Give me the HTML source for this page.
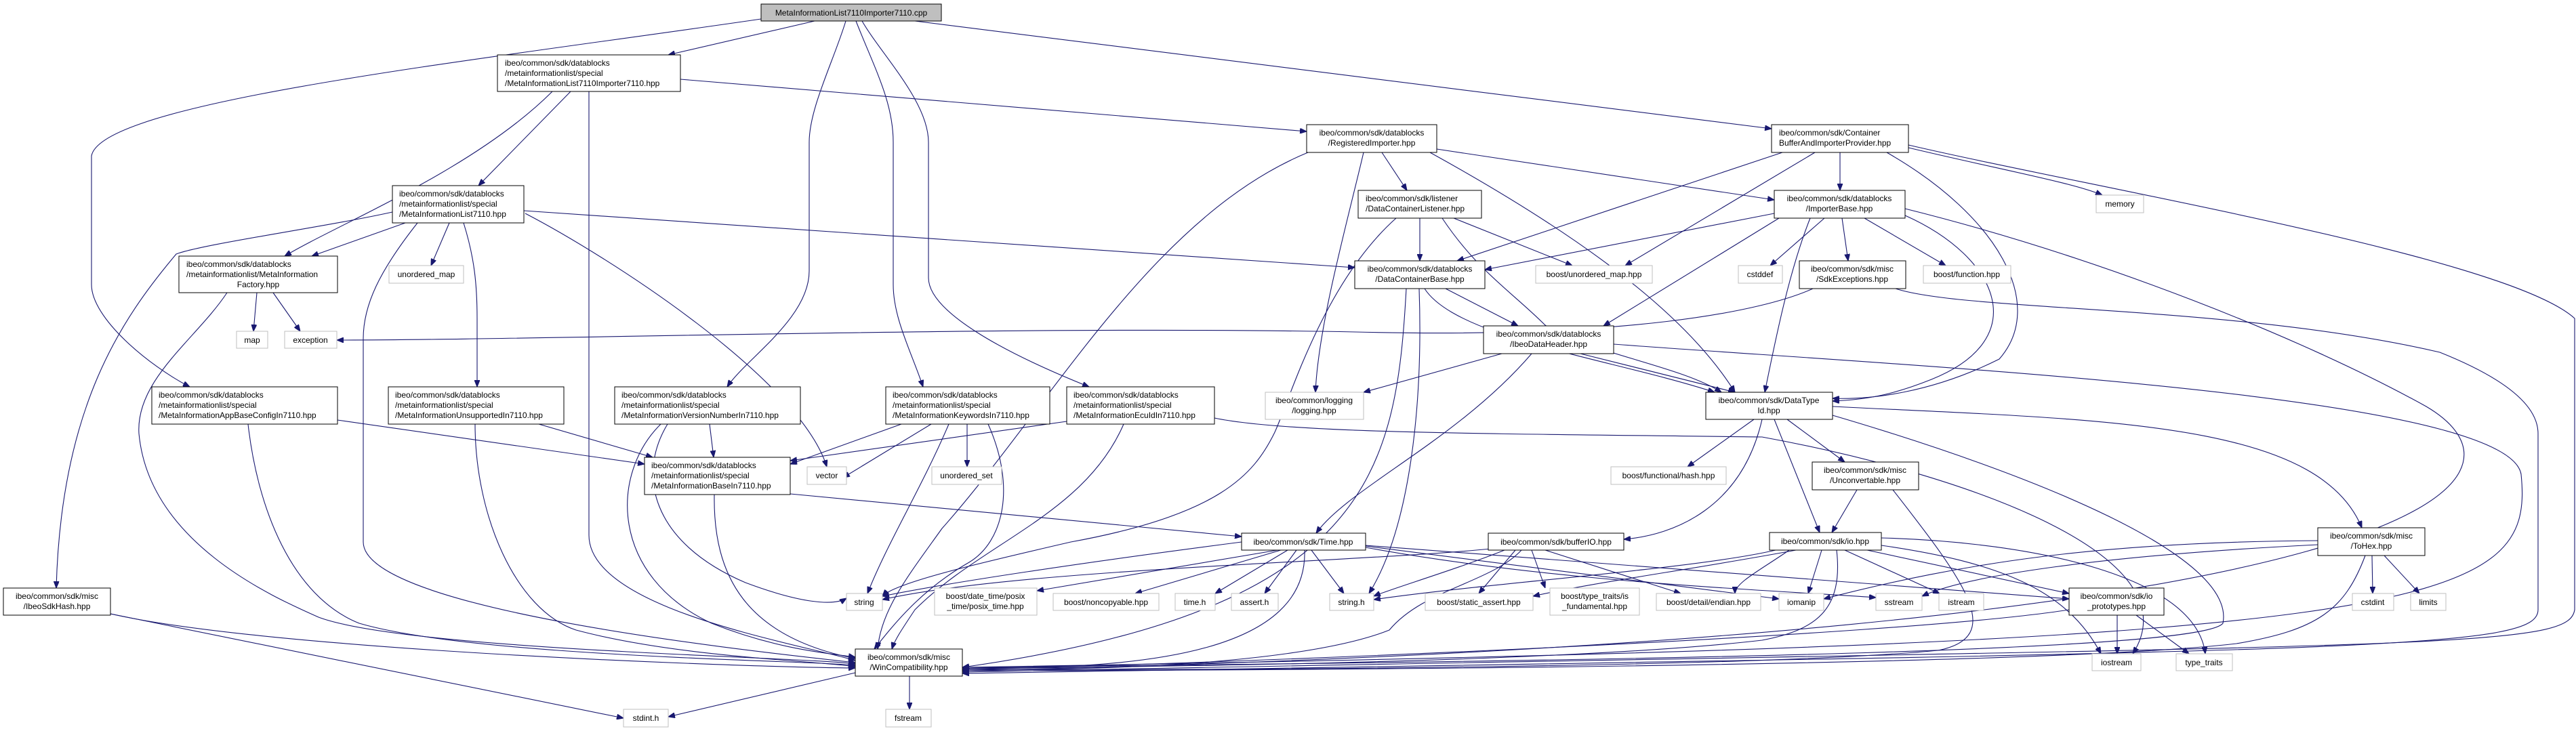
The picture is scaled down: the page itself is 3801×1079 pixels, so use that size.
<!DOCTYPE html>
<html><head><meta charset="utf-8"><style>
html,body{margin:0;padding:0;background:#fff;}
svg{display:block;}
text{font-family:"Liberation Sans",Arial,sans-serif;font-size:12px;fill:#000;}
.e{fill:none;stroke:#191970;stroke-width:1.1;marker-end:url(#a);}
.n{fill:#fff;stroke:#000;stroke-width:1;}
.g{fill:#fff;stroke:#bfbfbf;stroke-width:1;}
.sh{fill:none;stroke:#888;stroke-width:2;}
</style></head><body>
<svg width="3801" height="1079" viewBox="0 0 3801 1079" xmlns="http://www.w3.org/2000/svg">
<defs><marker id="a" markerWidth="10" markerHeight="8" refX="10" refY="4" orient="auto" markerUnits="userSpaceOnUse"><path d="M0,0 L10,4 L0,8 z" fill="#191970" stroke="#191970"/></marker></defs>

<!-- edges -->
<g>
<path class="e" d="M1202,31 L986,81"/>
<path class="e" d="M1123,28 C700,90 150,150 135,230 L135,420 C135,470 220,540 280,571"/>
<path class="e" d="M1248,31 C1230,90 1194,160 1194,210 L1194,400 C1194,470 1100,530 1073,571"/>
<path class="e" d="M1263,31 C1290,100 1318,150 1318,210 L1318,420 C1318,470 1345,520 1362,571"/>
<path class="e" d="M1272,31 C1300,80 1370,150 1370,210 L1370,410 C1370,460 1480,520 1607,571"/>
<path class="e" d="M1350,31 L2614,190"/>

<path class="e" d="M815,135 C700,250 500,330 420,378"/>
<path class="e" d="M842,135 L706,274"/>
<path class="e" d="M1004,117 L1928,194"/>
<path class="e" d="M869,135 L869,790 C869,900 1180,950 1262,975"/>

<path class="e" d="M598,329 L460,378"/>
<path class="e" d="M663,329 L636,392"/>
<path class="e" d="M579,313 C480,335 300,360 260,375 C180,470 90,600 83,868"/>
<path class="e" d="M684,329 C700,380 704,420 704,470 L704,571"/>
<path class="e" d="M616,329 C560,400 536,450 536,500 L536,800 C536,900 1100,960 1262,978"/>
<path class="e" d="M773,311 L1999,395"/>
<path class="e" d="M775,315 C900,380 1180,560 1220,689"/>

<path class="e" d="M379,432 L374,489"/>
<path class="e" d="M403,432 L443,489"/>
<path class="e" d="M335,432 C290,500 200,560 205,640 C220,800 400,880 470,911 C600,960 1200,970 1262,980"/>

<path class="e" d="M498,620 L951,685"/>
<path class="e" d="M366,626 C380,750 430,880 530,920 C700,970 1200,975 1262,982"/>
<path class="e" d="M795,626 L963,675"/>
<path class="e" d="M701,626 C701,760 760,900 850,930 C1000,970 1200,975 1262,984"/>
<path class="e" d="M1047,626 L1053,675"/>
<path class="e" d="M975,626 C900,700 900,850 1050,920 C1150,960 1230,965 1262,970"/>
<path class="e" d="M985,626 C940,700 960,800 1100,860 C1180,890 1230,895 1249,883"/>
<path class="e" d="M163,906 C400,960 1100,985 1262,986"/>
<path class="e" d="M163,906 L920,1060"/>
<path class="e" d="M1262,993 L986,1058"/>
<path class="e" d="M1342,998 L1342,1047"/>

<path class="e" d="M1054,730 C1052,850 1100,940 1262,972"/>
<path class="e" d="M1166,729 L1832,792"/>
<path class="e" d="M1330,626 L1166,685"/>
<path class="e" d="M1374,626 L1244,705"/>
<path class="e" d="M1427,626 L1427,689"/>
<path class="e" d="M1400,626 C1360,720 1310,800 1280,876"/>
<path class="e" d="M1458,626 C1500,720 1480,800 1430,830 C1360,870 1320,920 1290,958"/>
<path class="e" d="M1574,622 L1166,680"/>
<path class="e" d="M1658,626 C1600,760 1450,800 1350,900 C1330,930 1320,945 1316,958"/>
<path class="e" d="M1792,617 C1900,640 2200,640 2600,645 C2900,700 3240,820 3147,965"/>

<path class="e" d="M2039,225 L2076,281"/>
<path class="e" d="M2110,225 C2300,330 2480,450 2560,579"/>
<path class="e" d="M2120,220 L2618,295"/>
<path class="e" d="M1930,225 C1700,320 1550,600 1390,780 C1340,850 1300,900 1295,958"/>
<path class="e" d="M2012,225 C1990,320 1945,480 1941,579"/>
<path class="e" d="M2095,322 L2095,385"/>
<path class="e" d="M2145,322 L2320,392"/>
<path class="e" d="M2128,322 C2180,400 2230,430 2280,480 C2340,520 2480,540 2540,579"/>
<path class="e" d="M2060,322 C1950,420 1900,600 1880,640 C1850,700 1800,760 1580,800 C1450,830 1320,860 1302,880"/>
<path class="e" d="M2133,426 L2240,481"/>
<path class="e" d="M2102,426 C2150,500 2380,530 2530,579"/>
<path class="e" d="M2094,426 C2100,600 2080,780 2020,876"/>
<path class="e" d="M2075,426 C2060,700 2020,900 1420,985"/>
<path class="e" d="M2216,522 L2012,579"/>
<path class="e" d="M2332,522 L2560,579"/>
<path class="e" d="M2260,522 C2150,650 1990,720 1942,787"/>
<path class="e" d="M2381,508 C2800,540 3700,580 3720,700 C3740,900 3600,950 1420,985"/>

<path class="e" d="M2618,315 L2191,398"/>
<path class="e" d="M2692,322 L2612,392"/>
<path class="e" d="M2718,322 L2727,385"/>
<path class="e" d="M2751,322 L2871,392"/>
<path class="e" d="M2625,322 L2366,481"/>
<path class="e" d="M2671,322 C2640,400 2620,500 2604,579"/>
<path class="e" d="M2811,318 C2950,380 3000,500 2850,560 C2800,580 2760,590 2704,592"/>
<path class="e" d="M2811,308 C3100,380 3400,500 3580,600 C3750,700 3660,940 1420,990"/>
<path class="e" d="M2630,225 L2150,385"/>
<path class="e" d="M2678,225 L2398,392"/>
<path class="e" d="M2715,225 L2715,281"/>
<path class="e" d="M2816,218 C2950,250 3060,270 3102,288"/>
<path class="e" d="M2784,225 C2950,320 3020,450 2950,530 C2850,580 2760,590 2704,588"/>
<path class="e" d="M2816,214 C3100,280 3700,380 3799,470 L3799,900 C3790,960 3600,950 1420,992"/>
<path class="e" d="M2675,426 C2600,460 2400,500 2000,490 C1500,480 800,502 497,502"/>
<path class="e" d="M2797,426 C2900,460 3300,450 3600,520 C3700,560 3745,600 3745,640 L3745,900 C3745,960 3500,960 1420,994"/>

<path class="e" d="M2588,619 L2490,689"/>
<path class="e" d="M2600,619 C2570,750 2470,790 2396,796"/>
<path class="e" d="M2637,619 L2722,682"/>
<path class="e" d="M2618,619 L2685,786"/>
<path class="e" d="M2704,600 C3100,620 3420,620 3485,779"/>
<path class="e" d="M2704,613 C3000,700 3300,820 3280,920 C3250,960 2500,975 1420,985"/>
<path class="e" d="M2740,723 L2703,786"/>
<path class="e" d="M2793,723 C2900,860 2960,940 2860,960 C2600,985 1800,990 1420,988"/>

<path class="e" d="M2688,812 L2668,876"/>
<path class="e" d="M2722,812 L2862,876"/>
<path class="e" d="M2755,812 L3053,876"/>
<path class="e" d="M2776,805 C2950,830 3050,870 3100,965"/>
<path class="e" d="M2776,794 C3000,800 3240,850 3254,965"/>
<path class="e" d="M2650,812 C2500,840 2350,860 2262,880"/>
<path class="e" d="M2620,812 C2500,840 2200,860 2027,885"/>
<path class="e" d="M2640,812 C2600,840 2560,860 2560,876"/>
<path class="e" d="M2710,812 C2720,900 2680,930 2600,945 C2300,980 1600,985 1420,987"/>

<path class="e" d="M2220,812 C2150,840 2050,870 2027,880"/>
<path class="e" d="M2236,812 L2182,876"/>
<path class="e" d="M2260,812 L2280,868"/>
<path class="e" d="M2280,812 L2480,876"/>
<path class="e" d="M2245,812 C2200,860 2100,870 2050,930 C1900,990 1500,990 1420,987"/>
<path class="e" d="M2200,810 C2000,830 1500,840 1302,885"/>

<path class="e" d="M1832,800 C1600,830 1400,860 1302,880"/>
<path class="e" d="M1885,812 L1530,872"/>
<path class="e" d="M1890,812 L1675,876"/>
<path class="e" d="M1900,812 L1793,876"/>
<path class="e" d="M1913,812 L1866,876"/>
<path class="e" d="M1935,812 L1983,876"/>
<path class="e" d="M1925,812 C1930,960 1700,990 1420,985"/>
<path class="e" d="M2015,805 L3053,884"/>
<path class="e" d="M2015,808 C2300,860 2600,870 2768,882"/>
<path class="e" d="M2015,806 L2625,884"/>

<path class="e" d="M3420,798 C3100,800 2900,830 2691,884"/>
<path class="e" d="M3420,804 C3100,820 2900,850 2836,880"/>
<path class="e" d="M3500,820 L3501,876"/>
<path class="e" d="M3518,820 L3570,876"/>
<path class="e" d="M3490,820 C3460,900 3420,930 3300,950 C3000,985 1800,990 1420,990"/>
<path class="e" d="M3124,908 L3124,965"/>
<path class="e" d="M3152,908 L3230,965"/>
<path class="e" d="M3053,900 C2800,940 1800,980 1420,988"/>
</g>

<!-- nodes -->
<g>
<rect x="1123" y="6" width="266" height="25" fill="#bfbfbf" stroke="#000"/>
<text x="1256" y="23" text-anchor="middle">MetaInformationList7110Importer7110.cpp</text>

<rect class="n" x="734" y="81" width="270" height="54"/>
<text x="745" y="97">ibeo/common/sdk/datablocks</text><text x="745" y="112">/metainformationlist/special</text><text x="745" y="127">/MetaInformationList7110Importer7110.hpp</text>

<rect class="n" x="579" y="274" width="194" height="55"/>
<text x="589" y="290">ibeo/common/sdk/datablocks</text><text x="589" y="305">/metainformationlist/special</text><text x="589" y="320">/MetaInformationList7110.hpp</text>

<rect class="n" x="264" y="378" width="234" height="54"/>
<text x="275" y="394">ibeo/common/sdk/datablocks</text><text x="275" y="409">/metainformationlist/MetaInformation</text><text x="381" y="424" text-anchor="middle">Factory.hpp</text>

<rect class="g" x="574" y="392" width="110" height="26"/><text x="629" y="409" text-anchor="middle">unordered_map</text>
<rect class="g" x="349" y="489" width="46" height="25"/><text x="372" y="506" text-anchor="middle">map</text>
<rect class="g" x="420" y="489" width="77" height="25"/><text x="458" y="506" text-anchor="middle">exception</text>

<rect class="n" x="224" y="571" width="274" height="55"/>
<text x="234" y="587">ibeo/common/sdk/datablocks</text><text x="234" y="602">/metainformationlist/special</text><text x="234" y="617">/MetaInformationAppBaseConfigIn7110.hpp</text>

<rect class="n" x="573" y="571" width="259" height="55"/>
<text x="583" y="587">ibeo/common/sdk/datablocks</text><text x="583" y="602">/metainformationlist/special</text><text x="583" y="617">/MetaInformationUnsupportedIn7110.hpp</text>

<rect class="n" x="907" y="571" width="274" height="55"/>
<text x="917" y="587">ibeo/common/sdk/datablocks</text><text x="917" y="602">/metainformationlist/special</text><text x="917" y="617">/MetaInformationVersionNumberIn7110.hpp</text>

<rect class="n" x="1307" y="571" width="242" height="55"/>
<text x="1317" y="587">ibeo/common/sdk/datablocks</text><text x="1317" y="602">/metainformationlist/special</text><text x="1317" y="617">/MetaInformationKeywordsIn7110.hpp</text>

<rect class="n" x="1574" y="571" width="218" height="55"/>
<text x="1584" y="587">ibeo/common/sdk/datablocks</text><text x="1584" y="602">/metainformationlist/special</text><text x="1584" y="617">/MetaInformationEcuIdIn7110.hpp</text>

<rect class="n" x="951" y="675" width="215" height="55"/>
<text x="961" y="691">ibeo/common/sdk/datablocks</text><text x="961" y="706">/metainformationlist/special</text><text x="961" y="721">/MetaInformationBaseIn7110.hpp</text>

<rect class="g" x="1191" y="689" width="58" height="26"/><text x="1220" y="706" text-anchor="middle">vector</text>
<rect class="g" x="1375" y="689" width="103" height="26"/><text x="1426" y="706" text-anchor="middle">unordered_set</text>

<rect class="n" x="5" y="868" width="158" height="40"/>
<text x="84" y="884" text-anchor="middle">ibeo/common/sdk/misc</text><text x="84" y="899" text-anchor="middle">/IbeoSdkHash.hpp</text>

<rect class="g" x="1249" y="876" width="53" height="25"/><text x="1275" y="893" text-anchor="middle">string</text>

<rect class="n" x="1262" y="958" width="158" height="40"/>
<text x="1341" y="974" text-anchor="middle">ibeo/common/sdk/misc</text><text x="1341" y="989" text-anchor="middle">/WinCompatibility.hpp</text>

<rect class="g" x="920" y="1047" width="66" height="26"/><text x="953" y="1064" text-anchor="middle">stdint.h</text>
<rect class="g" x="1307" y="1047" width="67" height="26"/><text x="1340" y="1064" text-anchor="middle">fstream</text>

<rect class="n" x="1928" y="184" width="192" height="41"/>
<text x="2024" y="200" text-anchor="middle">ibeo/common/sdk/datablocks</text><text x="2024" y="215" text-anchor="middle">/RegisteredImporter.hpp</text>

<rect class="n" x="2004" y="281" width="182" height="41"/>
<text x="2015" y="297">ibeo/common/sdk/listener</text><text x="2015" y="312">/DataContainerListener.hpp</text>

<rect class="n" x="1999" y="385" width="192" height="41"/>
<text x="2095" y="401" text-anchor="middle">ibeo/common/sdk/datablocks</text><text x="2095" y="416" text-anchor="middle">/DataContainerBase.hpp</text>

<rect class="g" x="2266" y="392" width="172" height="26"/><text x="2352" y="409" text-anchor="middle">boost/unordered_map.hpp</text>
<rect class="g" x="2565" y="392" width="65" height="26"/><text x="2597" y="409" text-anchor="middle">cstddef</text>

<rect class="n" x="2189" y="481" width="192" height="41"/>
<text x="2285" y="497" text-anchor="middle">ibeo/common/sdk/datablocks</text><text x="2285" y="512" text-anchor="middle">/IbeoDataHeader.hpp</text>

<rect class="g" x="1867" y="579" width="145" height="40"/>
<text x="1939" y="595" text-anchor="middle">ibeo/common/logging</text><text x="1939" y="610" text-anchor="middle">/logging.hpp</text>

<rect class="n" x="2517" y="579" width="187" height="40"/>
<text x="2610" y="595" text-anchor="middle">ibeo/common/sdk/DataType</text><text x="2610" y="610" text-anchor="middle">Id.hpp</text>

<rect class="g" x="2377" y="689" width="170" height="26"/><text x="2462" y="706" text-anchor="middle">boost/functional/hash.hpp</text>

<rect class="n" x="1832" y="787" width="183" height="25"/><text x="1923" y="804" text-anchor="middle">ibeo/common/sdk/Time.hpp</text>
<rect class="n" x="2196" y="787" width="200" height="25"/><text x="2296" y="804" text-anchor="middle">ibeo/common/sdk/bufferIO.hpp</text>

<rect class="g" x="1379" y="868" width="151" height="40"/>
<text x="1454" y="884" text-anchor="middle">boost/date_time/posix</text><text x="1454" y="899" text-anchor="middle">_time/posix_time.hpp</text>
<rect class="g" x="1554" y="876" width="156" height="25"/><text x="1632" y="893" text-anchor="middle">boost/noncopyable.hpp</text>
<rect class="g" x="1734" y="876" width="59" height="25"/><text x="1763" y="893" text-anchor="middle">time.h</text>
<rect class="g" x="1817" y="876" width="69" height="25"/><text x="1851" y="893" text-anchor="middle">assert.h</text>
<rect class="g" x="1962" y="876" width="65" height="25"/><text x="1994" y="893" text-anchor="middle">string.h</text>
<rect class="g" x="2103" y="876" width="159" height="25"/><text x="2182" y="893" text-anchor="middle">boost/static_assert.hpp</text>
<rect class="g" x="2287" y="868" width="132" height="40"/>
<text x="2353" y="884" text-anchor="middle">boost/type_traits/is</text><text x="2353" y="899" text-anchor="middle">_fundamental.hpp</text>
<rect class="g" x="2444" y="876" width="154" height="25"/><text x="2521" y="893" text-anchor="middle">boost/detail/endian.hpp</text>

<rect class="n" x="2614" y="184" width="202" height="41"/>
<text x="2625" y="200">ibeo/common/sdk/Container</text><text x="2625" y="215">BufferAndImporterProvider.hpp</text>

<rect class="n" x="2618" y="281" width="193" height="41"/>
<text x="2714" y="297" text-anchor="middle">ibeo/common/sdk/datablocks</text><text x="2714" y="312" text-anchor="middle">/ImporterBase.hpp</text>

<rect class="g" x="3093" y="288" width="70" height="26"/><text x="3128" y="305" text-anchor="middle">memory</text>

<rect class="n" x="2655" y="385" width="157" height="41"/>
<text x="2733" y="401" text-anchor="middle">ibeo/common/sdk/misc</text><text x="2733" y="416" text-anchor="middle">/SdkExceptions.hpp</text>

<rect class="g" x="2838" y="392" width="129" height="26"/><text x="2902" y="409" text-anchor="middle">boost/function.hpp</text>

<rect class="n" x="2674" y="682" width="157" height="41"/>
<text x="2752" y="698" text-anchor="middle">ibeo/common/sdk/misc</text><text x="2752" y="713" text-anchor="middle">/Unconvertable.hpp</text>

<rect class="n" x="2611" y="786" width="165" height="26"/><text x="2693" y="803" text-anchor="middle">ibeo/common/sdk/io.hpp</text>

<rect class="g" x="2625" y="876" width="66" height="25"/><text x="2658" y="893" text-anchor="middle">iomanip</text>
<rect class="g" x="2768" y="876" width="68" height="25"/><text x="2802" y="893" text-anchor="middle">sstream</text>
<rect class="g" x="2861" y="876" width="66" height="25"/><text x="2894" y="893" text-anchor="middle">istream</text>

<rect class="n" x="3053" y="868" width="140" height="40"/>
<text x="3123" y="884" text-anchor="middle">ibeo/common/sdk/io</text><text x="3123" y="899" text-anchor="middle">_prototypes.hpp</text>

<rect class="n" x="3420" y="779" width="158" height="41"/>
<text x="3499" y="795" text-anchor="middle">ibeo/common/sdk/misc</text><text x="3499" y="810" text-anchor="middle">/ToHex.hpp</text>

<rect class="g" x="3471" y="876" width="61" height="25"/><text x="3501" y="893" text-anchor="middle">cstdint</text>
<rect class="g" x="3557" y="876" width="52" height="25"/><text x="3583" y="893" text-anchor="middle">limits</text>
<rect class="g" x="3087" y="965" width="72" height="25"/><text x="3123" y="982" text-anchor="middle">iostream</text>
<rect class="g" x="3211" y="965" width="83" height="25"/><text x="3252" y="982" text-anchor="middle">type_traits</text>
</g>
</svg>
</body></html>
